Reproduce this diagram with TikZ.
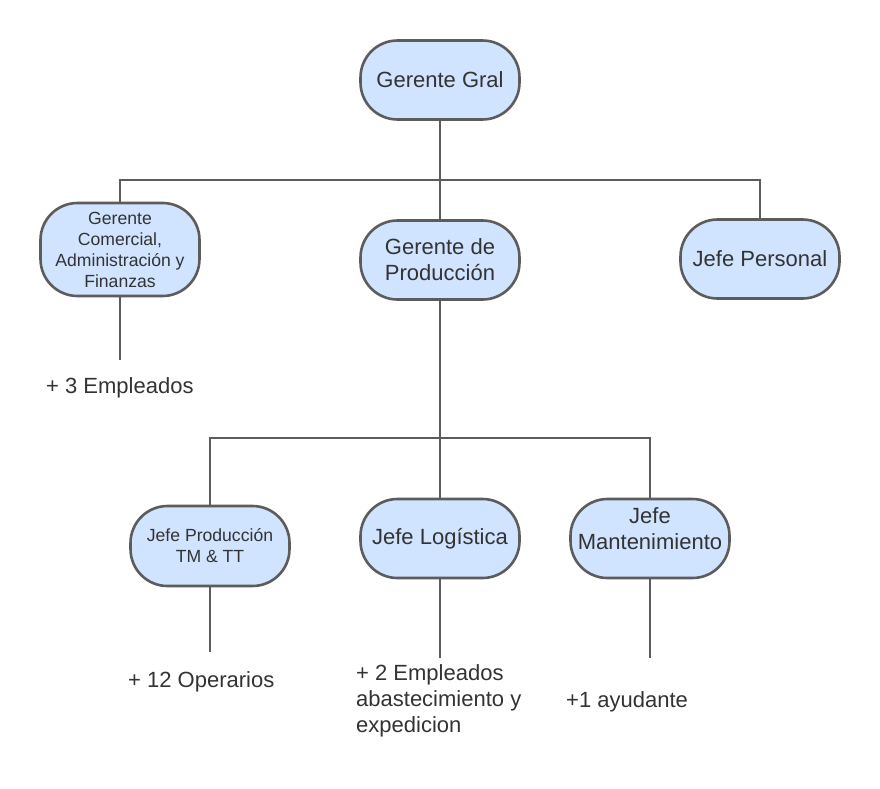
\documentclass[tikz,border=0pt]{standalone}
\usepackage{fontspec}
\setmainfont{Liberation Sans}
\definecolor{boxfill}{RGB}{208,227,255}
\definecolor{linecol}{RGB}{92,92,92}
\definecolor{textcol}{RGB}{51,51,51}
\newcommand\bigtxt{\fontsize{22}{26}\selectfont}
\newcommand\smalltxt{\fontsize{17.6}{21}\selectfont}
\begin{document}
\begin{tikzpicture}[x=1pt,y=-1pt,
  box/.style={draw=linecol, fill=boxfill, line width=2.6pt, rounded corners=37pt,
    minimum width=159pt, minimum height=79pt, inner sep=0pt, align=center,
    text=textcol, font=\bigtxt},
  smallbox/.style={box, font=\smalltxt},
  conn/.style={draw=linecol, line width=2pt},
  note/.style={anchor=west, inner sep=0pt, align=left, text=textcol, font=\bigtxt}]
\useasboundingbox[fill=white] (0,0) rectangle (880,789);

% boxes
\node[box] (gral) at (440,80) {Gerente Gral};
\node[smallbox, minimum height=93pt] (com) at (120,249.5) {Gerente\\Comercial,\\Administración y\\Finanzas};
\node[box] (prod) at (440,260) {Gerente de\\Producción};
\node[box] (pers) at (760,259) {Jefe Personal};
\node[smallbox, minimum height=80pt] (jp) at (210,546) {Jefe Producción\\TM \& TT};
\node[box] (logi) at (440,538.5) {Jefe Logística};
\node[box] (mant) at (650,538.5) {};
\node[note, anchor=center, align=center] (mantT) at (650,529) {Jefe\\Mantenimiento};

% bus coordinates
\coordinate (b1) at (440,180);
\coordinate (b2) at (440,438);
\coordinate (comEnd) at (120,360);
\coordinate (jpEnd) at (210,652);
\coordinate (logiEnd) at (440,658);
\coordinate (mantEnd) at (650,658);

% connectors
\draw[conn] (gral.south) -- (prod.north);
\draw[conn] (com.north) |- (b1) -| (pers.north);
\draw[conn] (com.south) -- (comEnd);
\draw[conn] (prod.south) -- (logi.north);
\draw[conn] (jp.north) |- (b2) -| (mant.north);
\draw[conn] (jp.south) -- (jpEnd);
\draw[conn] (logi.south) -- (logiEnd);
\draw[conn] (mant.south) -- (mantEnd);

% notes
\node[note] (n1) at (46,388) {+ 3 Empleados};
\node[note] (n2) at (128,682) {+ 12 Operarios};
\node[note] (n3) at (356,701) {+ 2 Empleados\\abastecimiento y\\expedicion};
\node[note] (n4) at (566,702) {+1 ayudante};
\end{tikzpicture}
\end{document}
